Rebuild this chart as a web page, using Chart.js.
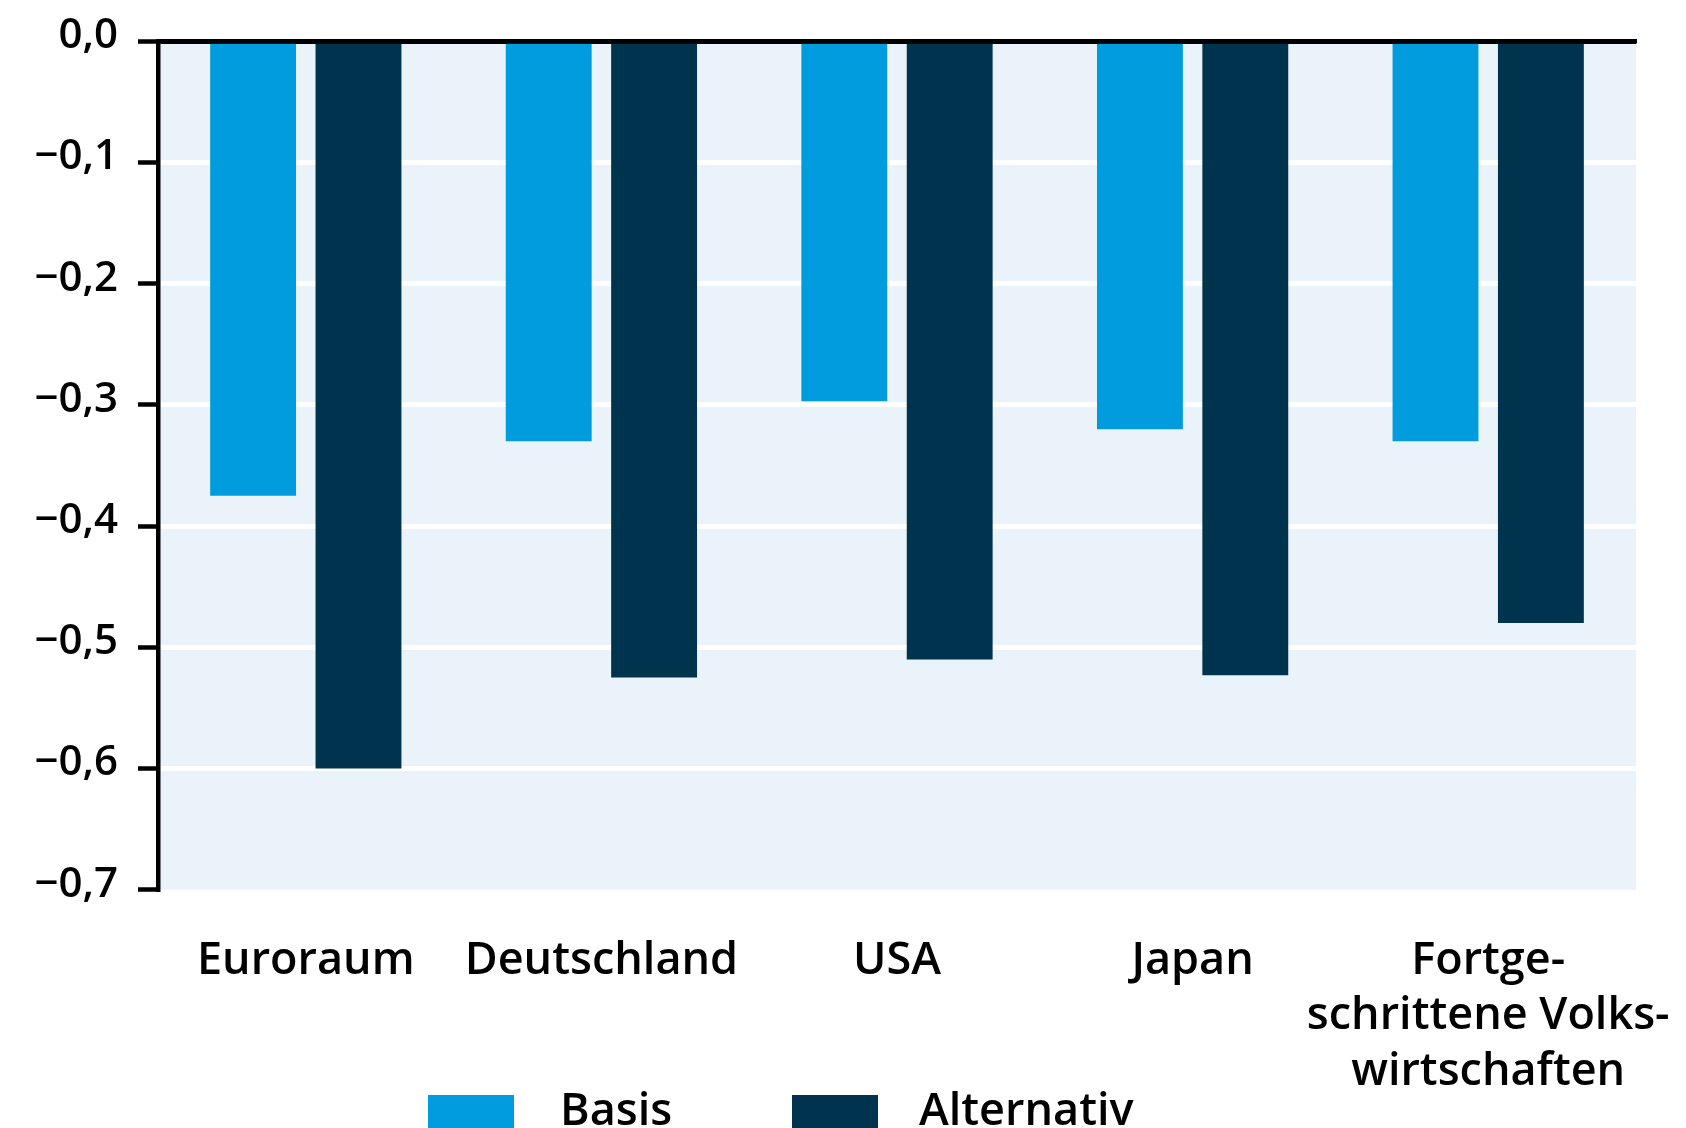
<!DOCTYPE html>
<html>
<head>
<meta charset="utf-8">
<script src="https://cdn.jsdelivr.net/npm/chart.js@4/dist/chart.umd.min.js"></script>
<style>
  html, body { margin: 0; padding: 0; background: #ffffff; overflow: hidden; }
  #wrap { position: relative; width: 1686px; height: 1128px; }
  #c { position: absolute; left: 0; top: 0; }
  #legend { position: absolute; left: 0; top: 0; width: 1686px; height: 1128px; pointer-events: none;
            font-family: "Open Sans", sans-serif; font-weight: 600; font-size: 45px; color: #000; }
  .lg-box { position: absolute; width: 86px; height: 36px; top: 1095px; }
  .lg-txt { position: absolute; top: 1085px; line-height: 45px; white-space: nowrap; }
</style>
</head>
<body>
<div id="wrap">
  <canvas id="c" width="1686" height="1128"></canvas>
  <div id="legend"></div>
</div>
<script>
// ---- data ----
const categories = ['Euroraum', 'Deutschland', 'USA', 'Japan', ['Fortge-', 'schrittene Volks-', 'wirtschaften']];
const seriesNames = ['Basis', 'Alternativ'];
const basis      = [-0.375, -0.33, -0.297, -0.32, -0.33];
const alternativ = [-0.60, -0.525, -0.51, -0.523, -0.48];
const yTickValues = [0, -0.1, -0.2, -0.3, -0.4, -0.5, -0.6, -0.7];
const yTickLabels = ['0,0', '−0,1', '−0,2', '−0,3', '−0,4', '−0,5', '−0,6', '−0,7'];

const COL_BASIS = '#009cde';
const COL_ALT = '#00334d';
const PLOT_BG = '#ebf3fa';
const FONT = '"Open Sans", sans-serif';

const plotBg = {
  id: 'plotBg',
  beforeDraw(chart) {
    const a = chart.chartArea, ctx = chart.ctx;
    ctx.save();
    ctx.fillStyle = PLOT_BG;
    ctx.fillRect(a.left, a.top, a.right - a.left, a.bottom - a.top);
    ctx.restore();
  }
};

const chart = new Chart(document.getElementById('c'), {
  type: 'bar',
  data: {
    labels: categories,
    datasets: [
      { label: seriesNames[0], data: basis, backgroundColor: COL_BASIS, borderWidth: 0,
        categoryPercentage: 0.713, barPercentage: 0.815 },
      { label: seriesNames[1], data: alternativ, backgroundColor: COL_ALT, borderWidth: 0,
        categoryPercentage: 0.713, barPercentage: 0.815 }
    ]
  },
  options: {
    responsive: false,
    animation: false,
    devicePixelRatio: 1,
    layout: { padding: { left: 0, right: 50, top: 0, bottom: 0 } },
    plugins: { legend: { display: false }, tooltip: { enabled: false } },
    scales: {
      x: {
        type: 'category',
        position: 'bottom',
        grid: { display: false, drawTicks: false },
        border: { display: false },
        ticks: {
          color: '#000', padding: 43, maxRotation: 0, autoSkip: false,
          font: { family: FONT, size: 45, weight: '600', lineHeight: 1.244 }
        },
        afterFit(s) { s.height = 1128 - 889.7; s.paddingLeft = 0; s.paddingRight = 0; }
      },
      x2: {
        type: 'category',
        position: 'top',
        grid: { display: false, drawTicks: false },
        border: { display: true, color: '#000', width: 4.5, z: 1 },
        ticks: { display: false },
        afterFit(s) { s.height = 41.3; s.paddingLeft = 0; s.paddingRight = 0; }
      },
      y: {
        type: 'linear',
        min: -0.7, max: 0,
        afterBuildTicks(s) { s.ticks = yTickValues.map(v => ({ value: v })); },
        grid: {
          color(ctx) {
            if (!ctx.tick) return '#ffffff';
            if (ctx.tick.value === 0) return '#000000';
            if (Math.abs(ctx.tick.value + 0.7) < 1e-9) return 'rgba(0,0,0,0)';
            return '#ffffff';
          },
          lineWidth: 5,
          tickColor: '#000',
          tickWidth: 4.5,
          tickLength: 20,
          drawTicks: true
        },
        border: { display: true, color: '#000', width: 4.5, z: 1 },
        ticks: {
          color: '#000', padding: 20, labelOffset: -5,
          font: { family: FONT, size: 42, weight: '600' },
          callback(value, index) { return yTickLabels[index]; }
        },
        afterFit(s) { s.width = 158; s.paddingTop = 0; s.paddingBottom = 0; }
      }
    }
  },
  plugins: [plotBg]
});

// HTML legend built from the chart's datasets
(function buildLegend() {
  const el = document.getElementById('legend');
  const boxLefts = [428, 792];
  const textLefts = [560, 919];
  chart.data.datasets.forEach((ds, i) => {
    const b = document.createElement('div');
    b.className = 'lg-box';
    b.style.left = boxLefts[i] + 'px';
    b.style.background = ds.backgroundColor;
    el.appendChild(b);
    const t = document.createElement('div');
    t.className = 'lg-txt';
    t.style.left = textLefts[i] + 'px';
    t.textContent = ds.label;
    el.appendChild(t);
  });
})();
</script>
</body>
</html>
